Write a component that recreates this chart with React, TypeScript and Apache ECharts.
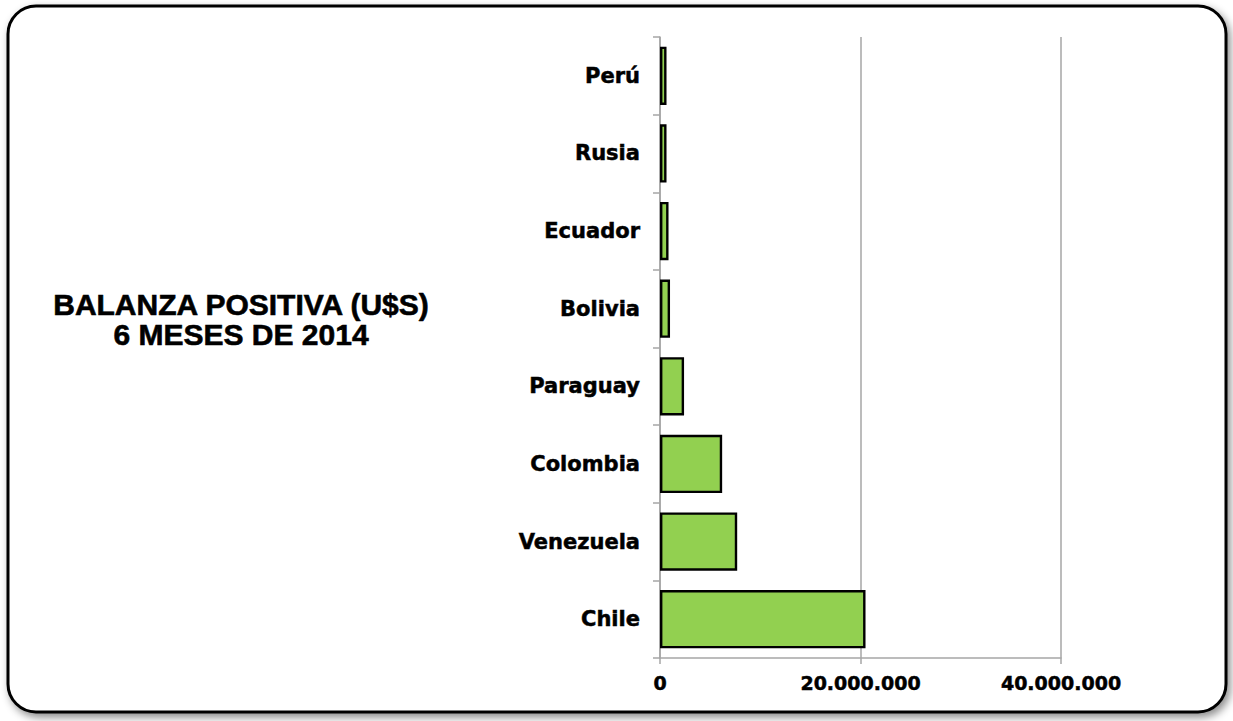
import React, { useEffect, useRef } from "react";
import * as echarts from "echarts";

const categories: string[] = ["Chile", "Venezuela", "Colombia", "Paraguay", "Bolivia", "Ecuador", "Rusia", "Perú"];
const values: number[] = [20500000, 7700000, 6200000, 2400000, 1000000, 850000, 650000, 650000];
const xTicks: number[] = [0, 20000000, 40000000];
const titleLines: string[] = ["BALANZA POSITIVA (U$S)", "6 MESES DE 2014"];

function fmt(v: number): string {
  return String(Math.round(v)).replace(/\B(?=(\d{3})+(?!\d))/g, ".");
}

export default function App() {
  const ref = useRef<HTMLDivElement>(null);
  useEffect(() => {
    if (!ref.current) return;
    const chart = echarts.init(ref.current, null, { renderer: "svg" });
    const labelFont = {
      fontFamily: "DejaVu Sans",
      fontWeight: "bold" as const,
      color: "#000",
      textBorderColor: "#000",
      textBorderWidth: 0.5,
    };
    chart.setOption({
      animation: false,
      backgroundColor: "#fff",
      graphic: [
        {
          type: "rect",
          z: -10,
          shape: { x: 8, y: 6, width: 1218, height: 706, r: 28 },
          style: {
            fill: "#fff",
            stroke: "#000",
            lineWidth: 3,
            shadowBlur: 8,
            shadowOffsetX: 3,
            shadowOffsetY: 4,
            shadowColor: "rgba(0,0,0,0.45)",
          },
        },
        {
          type: "text",
          x: 241,
          y: 319,
          style: {
            text: titleLines.join("\n"),
            fontFamily: "Liberation Sans",
            fontWeight: "bold",
            fontSize: 30,
            lineHeight: 30,
            fill: "#000",
            stroke: "#000",
            lineWidth: 0.6,
            align: "center",
            verticalAlign: "middle",
          },
        },
      ],
      grid: { left: 660, right: 172, top: 37, bottom: 63, containLabel: false },
      xAxis: {
        type: "value",
        min: xTicks[0],
        max: xTicks[xTicks.length - 1],
        interval: xTicks[1] - xTicks[0],
        axisLine: { show: true, lineStyle: { color: "#A6A6A6", width: 1.5 } },
        axisTick: { show: true, length: 6, lineStyle: { color: "#A6A6A6", width: 1.5 } },
        splitLine: { show: true, lineStyle: { color: "#A6A6A6", width: 1.5 } },
        axisLabel: { ...labelFont, fontSize: 19, margin: 15, formatter: (v: number) => fmt(v) },
      },
      yAxis: {
        type: "category",
        data: categories,
        axisLine: { show: true, lineStyle: { color: "#A6A6A6", width: 1.5 } },
        axisTick: { show: true, length: 7, lineStyle: { color: "#A6A6A6", width: 1.5 } },
        axisLabel: { ...labelFont, fontSize: 21, margin: 20 },
      },
      series: [
        {
          type: "bar",
          data: values,
          barCategoryGap: "25%",
          itemStyle: { color: "#92D050", borderColor: "#000", borderWidth: 2.4 },
        },
      ],
    });
    return () => chart.dispose();
  }, []);
  return (
    <div
      ref={ref}
      style={{ position: "fixed", left: 0, top: 0, width: 1233, height: 721 }}
    />
  );
}
